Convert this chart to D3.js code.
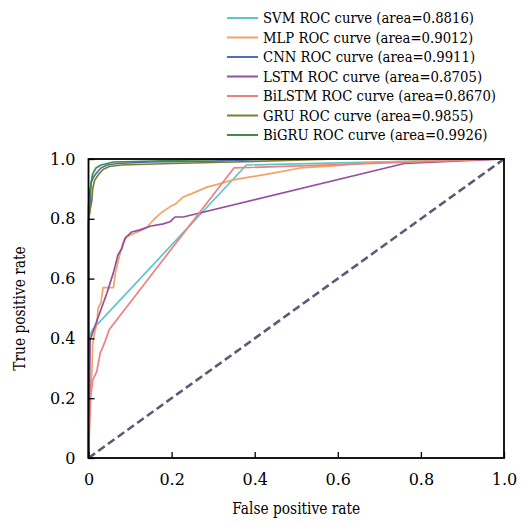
<!DOCTYPE html>
<html>
<head>
<meta charset="utf-8">
<script src="https://cdn.jsdelivr.net/npm/d3@7"></script>
<style>
  body { margin: 0; background: #fff; }
</style>
</head>
<body>
<div id="chart"></div>
<script>
// ROC curve data (false positive rate, true positive rate)
var modelNames = ["SVM", "MLP", "CNN", "LSTM", "BiLSTM", "GRU", "BiGRU"];
var modelAreas = ["0.8816", "0.9012", "0.9911", "0.8705", "0.8670", "0.9855", "0.9926"];
var modelColors = ["#5cc6c8", "#f2a365", "#4a70b5", "#9250a0", "#ee8080", "#7d7d35", "#3f8d45"];

var svmFpr = [0, 0, 0.01, 0.38, 1];
var svmTpr = [0, 0.40, 0.43, 0.98, 1];

var mlpFpr = [0, 0, 0.005, 0.008, 0.01, 0.015, 0.02, 0.023, 0.03, 0.035, 0.06, 0.065, 0.07, 0.076, 0.083, 0.092, 0.108, 0.125, 0.14, 0.156, 0.175, 0.196, 0.21, 0.228, 0.25, 0.285, 0.31, 0.348, 0.39, 0.444, 0.509, 0.589, 0.7, 1];
var mlpTpr = [0, 0.20, 0.24, 0.28, 0.38, 0.42, 0.45, 0.50, 0.52, 0.57, 0.57, 0.62, 0.65, 0.685, 0.72, 0.74, 0.75, 0.76, 0.77, 0.796, 0.82, 0.84, 0.85, 0.873, 0.885, 0.906, 0.915, 0.93, 0.94, 0.953, 0.97, 0.977, 0.99, 1];

var cnnFpr = [0, 0, 0.004, 0.006, 0.012, 0.02, 0.03, 0.045, 0.07, 0.15, 0.3, 0.45, 1];
var cnnTpr = [0, 0.78, 0.85, 0.92, 0.94, 0.955, 0.97, 0.98, 0.985, 0.99, 0.993, 1, 1];

var lstmFpr = [0, 0.004, 0.023, 0.044, 0.06, 0.071, 0.08, 0.088, 0.104, 0.124, 0.148, 0.18, 0.196, 0.208, 0.228, 0.76, 1];
var lstmTpr = [0, 0.395, 0.47, 0.55, 0.62, 0.68, 0.70, 0.735, 0.756, 0.763, 0.775, 0.783, 0.79, 0.806, 0.806, 0.985, 1];

var bilstmFpr = [0, 0.005, 0.01, 0.02, 0.028, 0.04, 0.05, 0.35, 1];
var bilstmTpr = [0, 0.20, 0.26, 0.29, 0.35, 0.39, 0.43, 0.97, 1];

var gruFpr = [0, 0, 0.008, 0.01, 0.015, 0.025, 0.035, 0.05, 0.08, 0.2, 0.35, 0.6, 1];
var gruTpr = [0, 0.80, 0.86, 0.90, 0.93, 0.95, 0.965, 0.975, 0.98, 0.985, 0.99, 1, 1];

var bigruFpr = [0, 0, 0.004, 0.01, 0.018, 0.03, 0.06, 0.2, 0.35, 1];
var bigruTpr = [0, 0.84, 0.90, 0.95, 0.97, 0.98, 0.99, 0.995, 1, 1];

var xTicks = [0, 0.2, 0.4, 0.6, 0.8, 1.0];
var yTicks = [0, 0.2, 0.4, 0.6, 0.8, 1.0];

var curves = [
  [svmFpr, svmTpr], [mlpFpr, mlpTpr], [cnnFpr, cnnTpr], [lstmFpr, lstmTpr],
  [bilstmFpr, bilstmTpr], [gruFpr, gruTpr], [bigruFpr, bigruTpr]
];

var width = 521, height = 523;
var plot = { left: 88.5, right: 504, top: 159, bottom: 458 };
var serif = "DejaVu Serif";

var svg = d3.select("#chart").append("svg")
  .attr("width", width)
  .attr("height", height)
  .attr("font-family", serif)
  .attr("font-size", 16);

var x = d3.scaleLinear().domain([0, 1]).range([plot.left, plot.right]);
var y = d3.scaleLinear().domain([0, 1]).range([plot.bottom, plot.top]);

function fmt(d) { return d === 0 ? "0" : d3.format(".1f")(d); }

// squeeze the serif text so it takes the width of the original Times face
var squeeze = 1;
function condense(sel) {
  sel.each(function () {
    var w = this.getComputedTextLength();
    if (squeeze < 1) {
      d3.select(this).attr("textLength", w * squeeze).attr("lengthAdjust", "spacingAndGlyphs");
    }
  });
}

// chance diagonal
svg.append("line")
  .attr("x1", x(0)).attr("y1", y(0))
  .attr("x2", x(1)).attr("y2", y(1))
  .attr("stroke", "#5b5b78")
  .attr("stroke-width", 2.6)
  .attr("stroke-dasharray", "8,4");

var line = d3.line()
  .x(function (d) { return x(d[0]); })
  .y(function (d) { return y(d[1]); });

// draw each ROC curve
curves.forEach(function (c, i) {
  var pts = c[0].map(function (v, j) { return [v, c[1][j]]; });
  svg.append("path")
    .datum(pts)
    .attr("d", line)
    .attr("fill", "none")
    .attr("stroke", modelColors[i])
    .attr("stroke-width", 1.7)
    .attr("stroke-linejoin", "round");
});

// axes with inward ticks
var xAxis = svg.append("g")
  .attr("transform", "translate(0," + plot.bottom + ")")
  .call(d3.axisBottom(x).tickValues(xTicks).tickFormat(fmt).tickSizeInner(-6).tickSizeOuter(0).tickPadding(16));
var yAxis = svg.append("g")
  .attr("transform", "translate(" + plot.left + ",0)")
  .call(d3.axisLeft(y).tickValues(yTicks).tickFormat(fmt).tickSizeInner(-6).tickSizeOuter(0).tickPadding(13));

[xAxis, yAxis].forEach(function (a) {
  a.attr("font-family", serif).attr("font-size", 16);
  a.select(".domain").remove();
  a.selectAll("line").attr("stroke", "#000").attr("stroke-width", 1.3);
  a.selectAll("text").attr("fill", "#000");
});

// frame
svg.append("rect")
  .attr("x", plot.left).attr("y", plot.top)
  .attr("width", plot.right - plot.left)
  .attr("height", plot.bottom - plot.top)
  .attr("fill", "none")
  .attr("stroke", "#000")
  .attr("stroke-width", 1.8);

// legend
var legend = svg.append("g").attr("font-size", 14);
var legendTexts = [];
modelNames.forEach(function (name, i) {
  var ly = 18 + i * 19.5;
  legend.append("line")
    .attr("x1", 227).attr("x2", 258)
    .attr("y1", ly).attr("y2", ly)
    .attr("stroke", modelColors[i])
    .attr("stroke-width", 2);
  legendTexts.push(legend.append("text")
    .attr("x", 263)
    .attr("y", ly + 5)
    .text(name + " ROC curve (area=" + modelAreas[i] + ")").node());
});
// the first legend row spans about 211px in the reference
squeeze = Math.min(1, 211 / legendTexts[0].getComputedTextLength());
condense(d3.selectAll(legendTexts));

// axis titles
var xTitle = svg.append("text")
  .attr("x", (plot.left + plot.right) / 2)
  .attr("y", 514)
  .attr("text-anchor", "middle")
  .text("False positive rate");

var yTitle = svg.append("text")
  .attr("transform", "translate(25," + ((plot.top + plot.bottom) / 2) + ") rotate(-90)")
  .attr("text-anchor", "middle")
  .text("True positive rate");

squeeze = 0.86;
condense(xTitle);
condense(yTitle);
</script>
</body>
</html>
